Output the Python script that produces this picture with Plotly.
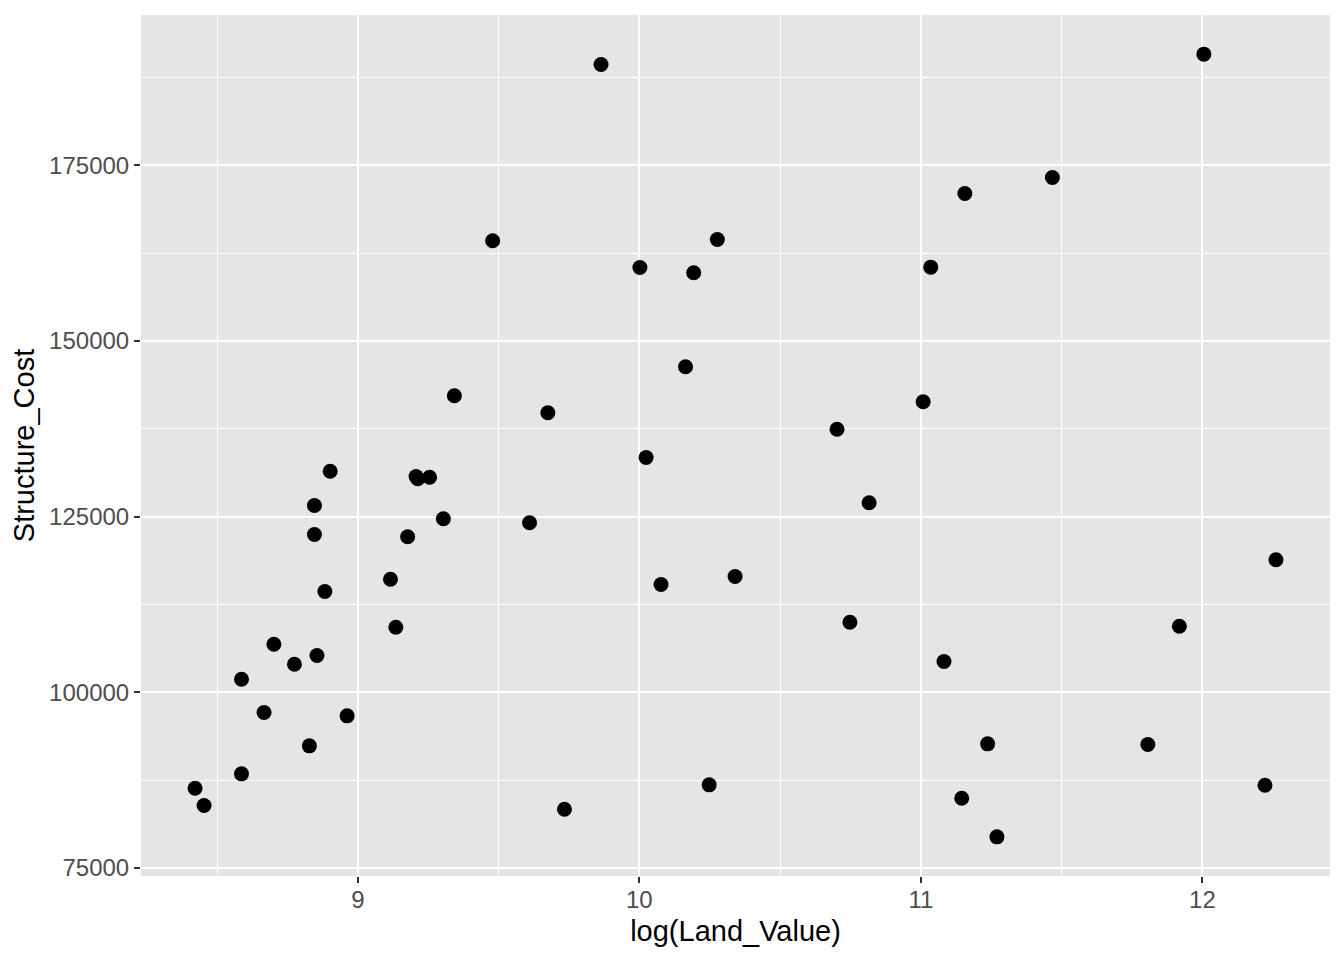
import plotly.graph_objects as go

# values (log land value vs structure cost)
log_land_value = [
    8.422, 8.454, 8.587, 8.587, 8.667, 8.702, 8.775, 8.828, 8.846, 8.846,
    8.855, 8.883, 8.902, 8.962, 9.116, 9.135, 9.177, 9.207, 9.213, 9.255,
    9.304, 9.343, 9.479, 9.610, 9.675, 9.734, 9.864, 10.002, 10.024, 10.077,
    10.164, 10.193, 10.248, 10.277, 10.340, 10.702, 10.748, 10.816, 11.008, 11.035,
    11.082, 11.145, 11.156, 11.237, 11.270, 11.467, 11.806, 11.918, 12.005, 12.222,
    12.261,
]
structure_cost = [
    86334, 83871, 101855, 88385, 97113, 106838, 103991, 92372, 126588, 122459,
    105229, 114342, 131472, 96643, 116094, 109259, 122131, 130717, 130390, 130618,
    124694, 142208, 164279, 124125, 139787, 83344, 189382, 160477, 133423, 115339,
    146337, 159722, 86818, 164464, 116478, 137452, 109971, 126972, 141354, 160520,
    104375, 84910, 171014, 92656, 79414, 173292, 92557, 109401, 190849, 86761,
    118856,
]

x_ticks = [9, 10, 11, 12]
y_ticks = [75000, 100000, 125000, 150000, 175000]

FONT = "Liberation Sans, Arial, Helvetica, sans-serif"
PANEL = "#E5E5E5"
TICK_GREY = "#4D4D4D"

fig = go.Figure(
    go.Scatter(
        x=log_land_value,
        y=structure_cost,
        mode="markers",
        marker=dict(color="black", size=15, line=dict(width=0)),
        showlegend=False,
        hoverinfo="x+y",
    )
)

axis_common = dict(
    showline=False,
    zeroline=False,
    showgrid=True,
    gridcolor="white",
    gridwidth=2,
    ticks="outside",
    ticklen=6,
    tickwidth=2,
    tickcolor="#333333",
    tickfont=dict(family=FONT, size=24, color=TICK_GREY),
    automargin=False,
)

fig.update_xaxes(
    axis_common,
    range=[8.230, 12.453],
    tickvals=x_ticks,
    ticktext=[str(v) for v in x_ticks],
    ticklabelstandoff=-4,
    minor=dict(dtick=0.5, tick0=8.5, showgrid=True, gridcolor="white", gridwidth=1, ticks=""),
    title=dict(text="log(Land_Value)", font=dict(family=FONT, size=29, color="black"), standoff=8),
)
fig.update_yaxes(
    axis_common,
    range=[73842, 196421],
    tickvals=y_ticks,
    ticktext=[str(v) for v in y_ticks],
    minor=dict(dtick=12500, tick0=87500, showgrid=True, gridcolor="white", gridwidth=1, ticks=""),
    title=dict(text="Structure_Cost", font=dict(family=FONT, size=29, color="black"), standoff=8),
)

# the page puts the plot 8px in from the top-left corner, so trim size and margins to match
fig.update_layout(
    width=1336,
    height=952,
    margin=dict(l=133, r=14, t=7, b=84),
    plot_bgcolor=PANEL,
    paper_bgcolor="white",
    font=dict(family=FONT),
)

fig.write_html("out.html")
